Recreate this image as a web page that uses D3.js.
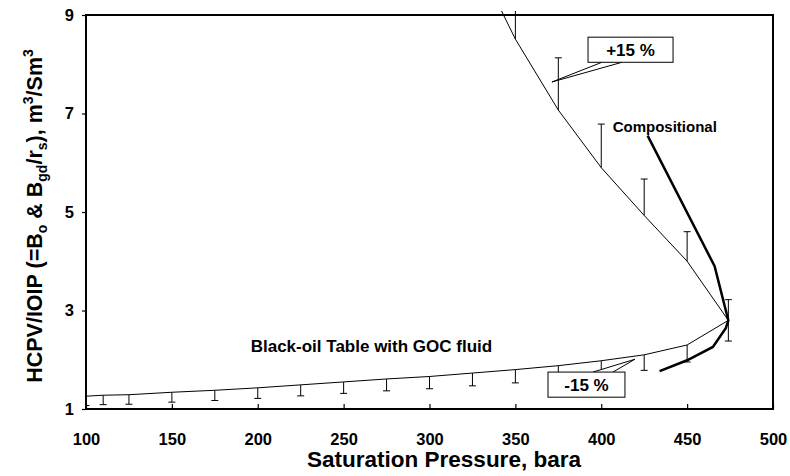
<!DOCTYPE html>
<html>
<head>
<meta charset="utf-8">
<script src="https://cdn.jsdelivr.net/npm/d3@7"></script>
<style>
  body { margin:0; background:#fff; }
  text { font-family: Arial, "Liberation Sans", sans-serif; font-weight:bold; fill:#000; }
</style>
</head>
<body>
<div id="canvas" class="canvas" style="width:790px;height:476px;"></div>
<script>
// black-oil table curve (lower branch -> nose -> upper branch)
var pressure = [100,110,125,150,175,200,225,250,275,300,325,350,375,400,425,450,474,450,425,400,375,350,340];
var hcpv     = [1.26,1.28,1.29,1.34,1.38,1.43,1.49,1.55,1.61,1.66,1.73,1.80,1.88,1.98,2.10,2.30,2.80,4.00,4.93,5.90,7.07,8.51,9.22];
// error bar direction: -1 = -15 %, 1 = +15 %, 0 = both, null = none
var errDir   = [-1,-1,-1,-1,-1,-1,-1,-1,-1,-1,-1,-1,-1,-1,-1,-1,0,1,1,1,1,1,null];
var errPct = 0.15;

// compositional curve
var compP = [434,450,465,472.5,474,466,427];
var compV = [1.77,1.99,2.26,2.64,2.80,3.90,6.55];

var xTicks = [100,150,200,250,300,350,400,450,500];
var yTicks = [1,3,5,7,9];

var m = {t:15,r:17,b:67,l:86};
var outerWidth = 790, outerHeight = 476;
var w = outerWidth - m.l - m.r,
    h = outerHeight - m.t - m.b;

var svg = d3.select('.canvas')
    .append('svg')
    .attr('width',outerWidth)
    .attr('height',outerHeight);

var plot = svg.append('g')
    .attr('transform','translate(' + m.l + ',' + m.t + ')');

var scaleX = d3.scaleLinear().domain([100,500]).range([0,w]);
var scaleY = d3.scaleLinear().domain([1,9]).range([h,0]);

plot.append('clipPath').attr('id','clip')
    .append('rect').attr('x',0).attr('y',-4).attr('width',w).attr('height',h+4);

// axes
var axisX = d3.axisBottom(scaleX).tickValues(xTicks).tickSize(-5).tickPadding(24);
var axisY = d3.axisLeft(scaleY).tickValues(yTicks).tickSize(4).tickPadding(8);

var gx = plot.append('g').attr('transform','translate(0,'+h+')').call(axisX);
var gy = plot.append('g').call(axisY);
[gx,gy].forEach(function(g){
    g.select('.domain').remove();
    g.selectAll('line').attr('stroke','#000').attr('stroke-width',1.2);
    g.selectAll('text').style('font-size','16.5px').style('font-family','Arial, "Liberation Sans", sans-serif').style('font-weight','bold');
});

// plot frame
plot.append('rect')
    .attr('width',w).attr('height',h)
    .attr('fill','none').attr('stroke','#000').attr('stroke-width',2);

var data = pressure.map(function(p,i){ return {p:p, v:hcpv[i], dir:errDir[i]}; });
var comp = compP.map(function(p,i){ return {p:p, v:compV[i]}; });

var line = d3.line().x(function(d){return scaleX(d.p);}).y(function(d){return scaleY(d.v);});

var inner = plot.append('g').attr('clip-path','url(#clip)');

// error bars
var bars = inner.selectAll('.err')
    .data(data.filter(function(d){return d.dir !== null;}))
    .enter().append('g').attr('class','err');
function lo(d){ return d.dir === 1 ? d.v : d.v*(1-errPct); }
function hi(d){ return d.dir === -1 ? d.v : d.v*(1+errPct); }
bars.append('line')
    .attr('x1',function(d){return scaleX(d.p);}).attr('x2',function(d){return scaleX(d.p);})
    .attr('y1',function(d){return scaleY(lo(d));}).attr('y2',function(d){return scaleY(hi(d));})
    .attr('stroke','#000').attr('stroke-width',1);
bars.filter(function(d){return d.dir !== 1;}).append('line')
    .attr('x1',function(d){return scaleX(d.p)-3.5;}).attr('x2',function(d){return scaleX(d.p)+3.5;})
    .attr('y1',function(d){return scaleY(lo(d));}).attr('y2',function(d){return scaleY(lo(d));})
    .attr('stroke','#000').attr('stroke-width',1);
bars.filter(function(d){return d.dir !== -1;}).append('line')
    .attr('x1',function(d){return scaleX(d.p)-3.5;}).attr('x2',function(d){return scaleX(d.p)+3.5;})
    .attr('y1',function(d){return scaleY(hi(d));}).attr('y2',function(d){return scaleY(hi(d));})
    .attr('stroke','#000').attr('stroke-width',1);

inner.append('path').datum(data)
    .attr('d',line).attr('fill','none').attr('stroke','#000').attr('stroke-width',1);
inner.append('path').datum(comp)
    .attr('d',line).attr('fill','none').attr('stroke','#000').attr('stroke-width',2.5);

// labels
plot.append('text')
    .attr('x',scaleX(336.5)).attr('y',scaleY(2.15))
    .attr('text-anchor','end')
    .style('font-size','17px')
    .text('Black-oil Table with GOC fluid');
plot.append('text')
    .attr('x',scaleX(437)).attr('y',scaleY(6.63))
    .attr('text-anchor','middle')
    .style('font-size','15px')
    .text('Compositional');

// callouts (data coordinates)
function callout(box, base1, base2, tip, label){
    var g = plot.append('g');
    g.append('path')
        .attr('d','M'+scaleX(base1[0])+','+scaleY(base1[1])+'L'+scaleX(tip[0])+','+scaleY(tip[1])+'L'+scaleX(base2[0])+','+scaleY(base2[1]))
        .attr('fill','#fff').attr('stroke','#000').attr('stroke-width',1);
    g.append('rect')
        .attr('x',scaleX(box[0])).attr('y',scaleY(box[3]))
        .attr('width',scaleX(box[1])-scaleX(box[0]))
        .attr('height',scaleY(box[2])-scaleY(box[3]))
        .attr('fill','#fff').attr('stroke','#000').attr('stroke-width',1);
    g.append('text')
        .attr('x',(scaleX(box[0])+scaleX(box[1]))/2)
        .attr('y',(scaleY(box[2])+scaleY(box[3]))/2 + 6)
        .attr('text-anchor','middle')
        .style('font-size','17px')
        .text(label);
}
callout([392.3,441.8,8.04,8.55],[400.4,8.04],[412.1,8.04],[371.3,7.64],'+15 %');
callout([369.0,413.8,1.24,1.75],[395.2,1.75],[406.8,1.75],[419.6,2.01],'-15 %');

// axis titles
svg.append('text')
    .attr('x',444).attr('y',467)
    .attr('text-anchor','middle')
    .style('font-size','22.5px')
    .text('Saturation Pressure, bara');

var yt = svg.append('text')
    .attr('transform','translate(42,'+(m.t+h/2+4)+') rotate(-90)')
    .attr('text-anchor','middle')
    .style('font-size','21.5px');
yt.append('tspan').text('HCPV/IOIP (=B');
yt.append('tspan').attr('dy',5).style('font-size','14px').text('o');
yt.append('tspan').attr('dy',-5).text(' & B');
yt.append('tspan').attr('dy',5).style('font-size','14px').text('gd');
yt.append('tspan').attr('dy',-5).text('/r');
yt.append('tspan').attr('dy',5).style('font-size','14px').text('s');
yt.append('tspan').attr('dy',-5).text('), m');
yt.append('tspan').attr('dy',-9).style('font-size','14px').text('3');
yt.append('tspan').attr('dy',9).text('/Sm');
yt.append('tspan').attr('dy',-9).style('font-size','14px').text('3');
</script>
</body>
</html>
